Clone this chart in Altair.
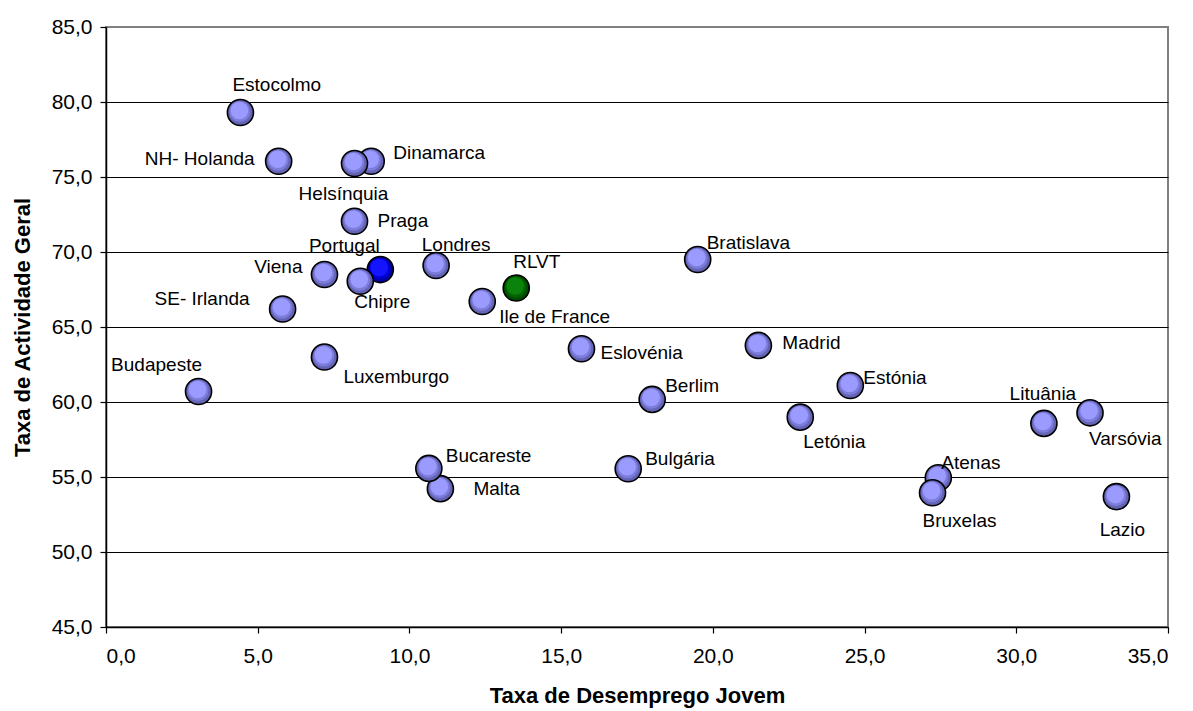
import altair as alt
import pandas as pd

# ---- data ----
regioes = ["Portugal", "Dinamarca", "Malta", "Atenas", "RLVT", "Estocolmo",
           "NH- Holanda", "Helsínquia", "Praga", "Viena", "Chipre", "Londres",
           "Ile de France", "SE- Irlanda", "Luxemburgo", "Budapeste",
           "Bratislava", "Eslovénia", "Madrid", "Estónia", "Berlim", "Letónia",
           "Lituânia", "Varsóvia", "Bulgária", "Bucareste", "Bruxelas", "Lazio"]
desemprego_jovem = [9.04, 8.74, 11.02, 27.43, 13.52, 4.43,
                    5.69, 8.19, 8.19, 7.2, 8.38, 10.88,
                    12.4, 5.82, 7.2, 3.05,
                    19.5, 15.67, 21.5, 24.53, 18.0, 22.88,
                    30.91, 32.43, 17.21, 10.64, 27.24, 33.3]
actividade_geral = [68.83, 76.05, 54.22, 54.95, 67.6, 79.3,
                    76.05, 75.9, 72.05, 68.5, 68.05, 69.1,
                    66.7, 66.2, 63.0, 60.7,
                    69.5, 63.55, 63.77, 61.1, 60.17, 58.99,
                    58.57, 59.28, 55.55, 55.57, 53.95, 53.69]
destaque = ["Portugal" if r == "Portugal" else ("RLVT" if r == "RLVT" else "Outras")
            for r in regioes]
# drawing order: 0 = underneath overlapping neighbours, 1 = on top
camada = [0 if r in ("Portugal", "Dinamarca", "Malta", "Atenas") else 1 for r in regioes]

x_ticks = [0, 5, 10, 15, 20, 25, 30, 35]
y_ticks = [45, 50, 55, 60, 65, 70, 75, 80, 85]

df = pd.DataFrame({"regiao": regioes, "desemprego": desemprego_jovem,
                   "actividade": actividade_geral, "destaque": destaque,
                   "camada": camada})

# ---- label placement (align, dx, dy in pixels) ----
LABELS = {
    "Estocolmo": ("left", -8, -28),
    "NH- Holanda": ("right", -24, -2),
    "Dinamarca": ("left", 22, -8),
    "Helsínquia": ("center", -11, 30),
    "Praga": ("left", 23, 0),
    "Portugal": ("center", -36, -24),
    "Viena": ("right", -22, -8),
    "Londres": ("center", 20, -21),
    "RLVT": ("left", -3, -26),
    "Chipre": ("left", -6, 21),
    "SE- Irlanda": ("right", -33, -10),
    "Ile de France": ("left", 17, 15),
    "Luxemburgo": ("left", 19, 20),
    "Budapeste": ("center", -42, -27),
    "Bratislava": ("left", 9, -17),
    "Madrid": ("left", 24, -2),
    "Eslovénia": ("left", 19, 4),
    "Estónia": ("left", 13, -8),
    "Berlim": ("left", 13, -13),
    "Letónia": ("left", 3, 25),
    "Lituânia": ("center", -1, -29),
    "Varsóvia": ("left", -1, 26),
    "Bulgária": ("left", 17, -10),
    "Atenas": ("left", 3, -15),
    "Bruxelas": ("left", -10, 28),
    "Lazio": ("center", 6, 33),
    "Bucareste": ("left", 17, -12),
    "Malta": ("left", 33, 0),
}

FONT = "Liberation Sans"
label_expr = "replace(format(datum.value, '.1f'), '.', ',')"

x_enc = alt.X("desemprego:Q",
              scale=alt.Scale(domain=[0, 35], nice=False, zero=False),
              axis=alt.Axis(values=x_ticks, labelExpr=label_expr, grid=False,
                            title="Taxa de Desemprego Jovem", titlePadding=19,
                            labelPadding=12))
y_enc = alt.Y("actividade:Q",
              scale=alt.Scale(domain=[45, 85], nice=False, zero=False),
              axis=alt.Axis(values=y_ticks, labelExpr=label_expr, grid=True,
                            gridColor="black", gridWidth=1,
                            gridOpacity={"condition": {"test": "datum.value >= 85", "value": 0},
                                         "value": 1},
                            title="Taxa de Actividade Geral", titlePadding=17,
                            labelPadding=8))

base = alt.Chart(df).encode(x=x_enc, y=y_enc)

groups = ["Outras", "Portugal", "RLVT"]
rim_colors = ["#6464B4", "#0000A8", "#004C00"]
mid_colors = ["#7C7CDA", "#0000D4", "#006400"]
hi_colors = ["#9A9AFF", "#1414FF", "#0B820B"]

layers = []
for z in (0, 1):
    sub = base.transform_filter(alt.datum.camada == z)
    layers.append(sub.mark_circle(size=680, opacity=1, stroke="black", strokeWidth=1.6).encode(
        color=alt.Color("destaque:N", scale=alt.Scale(domain=groups, range=rim_colors), legend=None)))
    layers.append(sub.mark_circle(size=440, opacity=1, xOffset=-0.6, yOffset=-1).encode(
        color=alt.Color("destaque:N", scale=alt.Scale(domain=groups, range=mid_colors), legend=None)))
    layers.append(sub.mark_circle(size=310, opacity=1, xOffset=-1, yOffset=-2).encode(
        color=alt.Color("destaque:N", scale=alt.Scale(domain=groups, range=hi_colors), legend=None)))

for nome, (align, dx, dy) in LABELS.items():
    layers.append(base.transform_filter(alt.datum.regiao == nome).mark_text(
        align=align, baseline="middle", dx=dx, dy=dy, font=FONT, fontSize=19, color="black"
    ).encode(text="regiao:N"))

chart = alt.layer(*layers).resolve_scale(color="independent").properties(
    width=1062, height=600,
    autosize=alt.AutoSizeParams(type="none"),
    padding={"left": 98, "top": 19, "right": 10, "bottom": 90},
).configure_view(
    stroke="#808080", strokeWidth=2
).configure_axis(
    labelFont=FONT, labelFontSize=21, labelColor="black",
    titleFont=FONT, titleFontSize=22, titleFontWeight="bold", titleColor="black",
    domainColor="black", domainWidth=1.5, tickColor="black", tickSize=6, tickWidth=1.2,
)

chart.save("out.html", embed_options={"renderer": "svg", "actions": False})
